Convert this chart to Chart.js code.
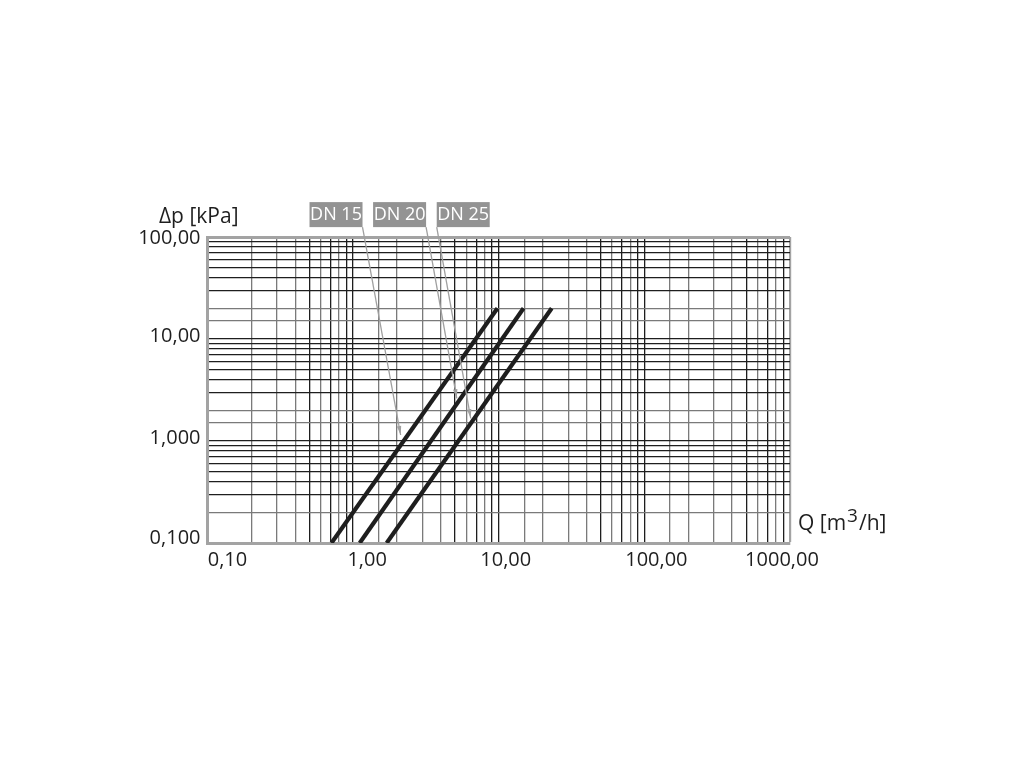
<!DOCTYPE html>
<html>
<head>
<meta charset="utf-8">
<title>Δp – Q</title>
<script src="https://cdn.jsdelivr.net/npm/chart.js@4.4.1/dist/chart.umd.min.js"></script>
<style>
  html, body { margin: 0; padding: 0; background: #fff; }
  #wrap { position: relative; width: 1024px; height: 768px; }
</style>
</head>
<body>
<div id="wrap"><canvas id="chart"></canvas></div>
<script>
/* ─────────────────────────────────────────
   Data
   ───────────────────────────────────────── */
const seriesNames = ['DN 15', 'DN 20', 'DN 25'];

// flow Q [m3/h] and pressure drop Δp [kPa] at both ends of each line
const dn15Q  = [0.71, 9.8];
const dn15Dp = [0.1, 20];
const dn20Q  = [1.11, 14.8];
const dn20Dp = [0.1, 20];
const dn25Q  = [1.70, 23.1];
const dn25Dp = [0.1, 20];

// leader lines: from the label box down to the curve
const leaderTopQ  = [1.16, 3.17, 3.75];
const leaderTopDp = [125, 125, 125];
const leaderTipQ  = [2.12, 5.15, 6.42];
const leaderTipDp = [1.145, 2.62, 1.67];

const xTickValues = [0.1, 1, 10, 100, 1000];
const xTickLabels = ['0,10', '1,00', '10,00', '100,00', '1000,00'];
const yTickValues = [0.1, 1, 10, 100];
const yTickLabels = ['0,100', '1,000', '10,00', '100,00'];

/* ─────────────────────────────────────────
   Styling
   ───────────────────────────────────────── */
const INK    = '#1e1e1e';
const GREY   = '#7a7a7a';
const FRAME  = '#a3a3a3';
const LEADER = '#a0a0a0';
const BOX    = '#939393';
const FONT   = "'Open Sans', 'Noto Sans', sans-serif";

const darkX = [1, 5, 7, 9];   // significands drawn black on the Q axis
const greyY = [2];            // significands drawn grey on the Δp axis
const xLabelNudge = [20, 14, 7, 12, -8];
const yLabelNudge = [-5, -2.5, -3, 1.5];
const boxAlign = ['right', 'right', 'left'];

function significand(v) {
  return Math.round(v / Math.pow(10, Math.floor(Math.log10(v) + 1e-9)));
}

/* ─────────────────────────────────────────
   Labels, arrows and axis titles
   ───────────────────────────────────────── */
const annotate = {
  id: 'annotate',
  afterDraw(chart) {
    const { ctx, chartArea: a, scales: { x, y } } = chart;
    ctx.save();

    // arrowheads on the leader lines
    ctx.fillStyle = LEADER;
    leaderTipQ.forEach((q, i) => {
      const x0 = x.getPixelForValue(leaderTopQ[i]), y0 = y.getPixelForValue(leaderTopDp[i]);
      const x1 = x.getPixelForValue(q),             y1 = y.getPixelForValue(leaderTipDp[i]);
      const ang = Math.atan2(y1 - y0, x1 - x0);
      ctx.beginPath();
      ctx.moveTo(x1, y1);
      ctx.lineTo(x1 - 9 * Math.cos(ang) + 2.2 * Math.sin(ang), y1 - 9 * Math.sin(ang) - 2.2 * Math.cos(ang));
      ctx.lineTo(x1 - 9 * Math.cos(ang) - 2.2 * Math.sin(ang), y1 - 9 * Math.sin(ang) + 2.2 * Math.cos(ang));
      ctx.closePath();
      ctx.fill();
    });

    // grey label boxes
    ctx.font = `18px ${FONT}`;
    ctx.textBaseline = 'middle';
    ctx.textAlign = 'center';
    seriesNames.forEach((name, i) => {
      const px = x.getPixelForValue(leaderTopQ[i]);
      const py = y.getPixelForValue(leaderTopDp[i]);
      const w = 53, h = 25;
      const left = boxAlign[i] === 'right' ? px - w : px;
      ctx.fillStyle = BOX;
      ctx.fillRect(left, py - h, w, h);
      ctx.fillStyle = '#ffffff';
      ctx.fillText(name, left + w / 2, py - h / 2);
    });

    // tick labels
    ctx.fillStyle = INK;
    ctx.font = `20px ${FONT}`;
    ctx.textAlign = 'center';
    ctx.textBaseline = 'top';
    xTickValues.forEach((v, i) => {
      ctx.fillText(xTickLabels[i], x.getPixelForValue(v) + xLabelNudge[i], a.bottom + 7);
    });
    ctx.textAlign = 'right';
    ctx.textBaseline = 'middle';
    yTickValues.forEach((v, i) => {
      ctx.fillText(yTickLabels[i], a.left - 7, y.getPixelForValue(v) + yLabelNudge[i]);
    });

    // axis titles
    ctx.font = `21px ${FONT}`;
    ctx.textAlign = 'right';
    ctx.textBaseline = 'alphabetic';
    ctx.fillText('Δp [kPa]', a.left + 31, a.top - 14);

    ctx.textAlign = 'left';
    let tx = a.right + 8;
    const ty = a.bottom - 13;
    ctx.fillText('Q [m', tx, ty);
    tx += ctx.measureText('Q [m').width + 1;
    ctx.font = `19px ${FONT}`;
    ctx.fillText('3', tx, ty - 8);
    tx += ctx.measureText('3').width + 1;
    ctx.font = `21px ${FONT}`;
    ctx.fillText('/h]', tx, ty);

    ctx.restore();
  },
};

/* ─────────────────────────────────────────
   Chart
   ───────────────────────────────────────── */
const curves = [
  { q: dn15Q, dp: dn15Dp },
  { q: dn20Q, dp: dn20Dp },
  { q: dn25Q, dp: dn25Dp },
];

const curveSets = curves.map((c, i) => ({
  label:       seriesNames[i],
  data:        c.q.map((q, k) => ({ x: q, y: c.dp[k] })),
  showLine:    true,
  borderColor: INK,
  borderWidth: 4.2,
  pointRadius: 0,
}));

const leaderSets = seriesNames.map((name, i) => ({
  label:       name + ' leader',
  data:        [{ x: leaderTopQ[i], y: leaderTopDp[i] }, { x: leaderTipQ[i], y: leaderTipDp[i] }],
  showLine:    true,
  borderColor: LEADER,
  borderWidth: 1.3,
  pointRadius: 0,
  clip:        false,
}));

new Chart(document.getElementById('chart'), {
  type: 'scatter',
  data: { datasets: [...leaderSets, ...curveSets] },
  options: {
    responsive:          true,
    maintainAspectRatio: false,
    animation:           false,
    layout: { padding: { left: 207.5, right: 234, top: 237, bottom: 225 } },
    plugins: {
      legend:  { display: false },
      tooltip: { enabled: false },
    },
    scales: {
      x: {
        type: 'logarithmic',
        min:  0.1,
        max:  1000,
        ticks: { display: false, autoSkip: false },
        grid: {
          drawTicks: false,
          color: c => (c.tick.value > 999 ? FRAME : darkX.includes(significand(c.tick.value)) ? INK : GREY),
          lineWidth: c => (c.tick.value > 999 ? 2.2 : 1.3),
        },
        border: { display: true, color: FRAME, width: 3 },
      },
      y: {
        type: 'logarithmic',
        min:  0.1,
        max:  100,
        ticks: { display: false, autoSkip: false },
        grid: {
          drawTicks: false,
          color: c => (c.tick.value > 99 ? FRAME : greyY.includes(significand(c.tick.value)) ? GREY : INK),
          lineWidth: c => (c.tick.value > 99 ? 3 : 1.3),
        },
        border: { display: true, color: FRAME, width: 3 },
      },
    },
  },
  plugins: [annotate],
});
</script>
</body>
</html>
